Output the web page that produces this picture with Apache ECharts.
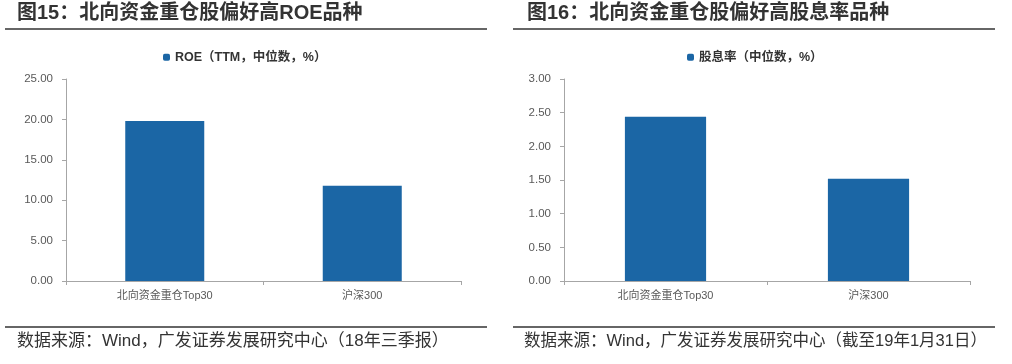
<!DOCTYPE html>
<html><head><meta charset="utf-8">
<script src="https://cdn.jsdelivr.net/npm/echarts@6/dist/echarts.min.js"></script>
<style>html,body{margin:0;padding:0;background:#fff}#c{width:1012px;height:364px}</style>
</head><body><div id="c"></div>
<script>
var categories = ['北向资金重仓Top30', '沪深300'];
var roeValues = [19.8, 11.8];
var divValues = [2.44, 1.52];
var roeName = 'ROE（TTM，中位数，%）';
var divName = '股息率（中位数，%）';
var title1 = '图15：北向资金重仓股偏好高ROE品种';
var title2 = '图16：北向资金重仓股偏好高股息率品种';
var source1 = '数据来源：Wind，广发证券发展研究中心（18年三季报）';
var source2 = '数据来源：Wind，广发证券发展研究中心（截至19年1月31日）';

var FONT = '"Liberation Sans", "Noto Sans CJK SC", sans-serif';
var barColor = '#1b66a5';
var chart = echarts.init(document.getElementById('c'));

function yAxis(idx, max, interval) {
  return {
    type: 'value', gridIndex: idx, min: 0, max: max, interval: interval,
    axisLine: {show: true, lineStyle: {color: '#a6a6a6'}},
    axisTick: {show: true, length: 4, lineStyle: {color: '#a6a6a6'}},
    splitLine: {show: false},
    axisLabel: {formatter: function (v) { return v.toFixed(2); }, color: '#595959', fontSize: 11.5, fontFamily: FONT, margin: 13}
  };
}
function xAxis(idx) {
  return {
    type: 'category', gridIndex: idx, data: categories,
    axisLine: {lineStyle: {color: '#a6a6a6'}},
    axisTick: {show: true, length: 4, lineStyle: {color: '#a6a6a6'}},
    axisLabel: {color: '#595959', fontSize: 11, fontFamily: FONT, margin: 9}
  };
}

chart.setOption({
  animation: false,
  textStyle: {fontFamily: FONT},
  grid: [
    {left: 66, right: 551, top: 79, bottom: 83},
    {left: 564, right: 42, top: 79, bottom: 83}
  ],
  legend: [
    {data: [roeName], left: 158, top: 46, itemWidth: 7, itemHeight: 7, itemGap: 4,
     textStyle: {fontSize: 12.5, color: '#333', fontWeight: 'bold', fontFamily: FONT}},
    {data: [divName], left: 682, top: 46, itemWidth: 7, itemHeight: 7, itemGap: 4,
     textStyle: {fontSize: 12.5, color: '#333', fontWeight: 'bold', fontFamily: FONT}}
  ],
  xAxis: [xAxis(0), xAxis(1)],
  yAxis: [yAxis(0, 25, 5), yAxis(1, 3, 0.5)],
  series: [
    {name: roeName, type: 'bar', xAxisIndex: 0, yAxisIndex: 0, data: roeValues, barWidth: '40%',
     itemStyle: {color: barColor}},
    {name: divName, type: 'bar', xAxisIndex: 1, yAxisIndex: 1, data: divValues, barWidth: '40%',
     itemStyle: {color: barColor}}
  ],
  graphic: [
    {type: 'text', left: 17, top: 3, style: {text: title1, fontSize: 20, fontWeight: 'bold', fill: '#333', fontFamily: FONT}},
    {type: 'text', left: 527, top: 3, style: {text: title2, fontSize: 20, fontWeight: 'bold', fill: '#333', fontFamily: FONT}},
    {type: 'line', shape: {x1: 5, y1: 29, x2: 487, y2: 29}, style: {stroke: '#333', lineWidth: 1.5}},
    {type: 'line', shape: {x1: 513, y1: 29, x2: 995, y2: 29}, style: {stroke: '#333', lineWidth: 1.5}},
    {type: 'line', shape: {x1: 5, y1: 327, x2: 487, y2: 327}, style: {stroke: '#333', lineWidth: 1.5}},
    {type: 'line', shape: {x1: 513, y1: 327, x2: 995, y2: 327}, style: {stroke: '#333', lineWidth: 1.5}},
    {type: 'text', left: 17, top: 333, style: {text: source1, fontSize: 17, fill: '#333', fontFamily: FONT}},
    {type: 'text', left: 524, top: 333, style: {text: source2, fontSize: 16.5, fill: '#333', fontFamily: FONT}}
  ]
});
</script></body></html>
